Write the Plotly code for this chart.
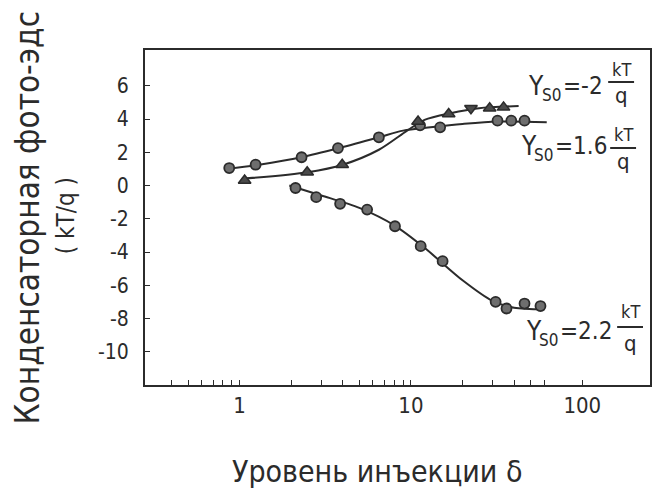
import plotly.graph_objects as go

# ---------------- data ----------------
# Y_s0 = 1.6 kT/q  (circles, upper)
s1_x = [0.87, 1.24, 2.3, 3.75, 6.5, 11.3, 14.8, 32, 38.5, 46]
s1_y = [1.05, 1.25, 1.7, 2.25, 2.9, 3.62, 3.5, 3.9, 3.9, 3.9]
c1_x = [0.85, 1.3, 2.3, 3.8, 6.5, 9.0, 13, 20, 32, 62]
c1_y = [1.0, 1.25, 1.7, 2.25, 2.9, 3.3, 3.5, 3.7, 3.85, 3.8]

# Y_s0 = -2 kT/q  (triangles)
s2_x = [1.07, 2.48, 3.97, 11.0, 16.6, 22.4, 28.8, 34.7]
s2_y = [0.3, 0.8, 1.25, 3.85, 4.3, 4.65, 4.65, 4.7]
s2_sym = ["triangle-up", "triangle-up", "triangle-up", "triangle-up",
          "triangle-up", "triangle-down", "triangle-up", "triangle-up"]
c2_x = [1.03, 2.5, 4.0, 6.5, 9.5, 12, 17, 25, 42.5]
c2_y = [0.4, 0.8, 1.25, 2.15, 3.3, 3.95, 4.35, 4.65, 4.78]

# Y_s0 = 2.2 kT/q  (circles, lower)
s3_x = [2.12, 2.8, 3.86, 5.55, 8.07, 11.4, 15.3, 31.2, 36.1, 46, 57]
s3_y = [-0.15, -0.7, -1.1, -1.45, -2.45, -3.65, -4.55, -7.0, -7.4, -7.1, -7.25]
c3_x = [1.95, 3, 5, 8, 12, 20, 30, 40, 60]
c3_y = [0.0, -0.6, -1.35, -2.4, -3.75, -5.7, -6.95, -7.35, -7.45]

y_ticks = [-10, -8, -6, -4, -2, 0, 2, 4, 6]
x_major = [1, 10, 100]
x_major_text = ["1", "10", "100"]
x_minor = [0.4, 0.5, 0.6, 0.7, 0.8, 0.9, 2, 3, 4, 5, 6, 7, 8, 9,
           20, 30, 40, 50, 60]

labels = ["-2", "1.6", "2.2"]

# ---------------- figure ----------------
W, H = 655, 496
L, R, T, B = 145, 3, 50, 111
INK = "#2b2b2b"
FONT = "DejaVu Sans Condensed, Liberation Sans Narrow, DejaVu Sans, sans-serif"

def px(xp, yp):
    return (xp - L) / (W - L - R), (H - B - yp) / (H - T - B)

fig = go.Figure()
line_style = dict(color=INK, width=2, shape="spline", smoothing=0.8)
for cx, cy in [(c1_x, c1_y), (c2_x, c2_y), (c3_x, c3_y)]:
    fig.add_trace(go.Scatter(x=cx, y=cy, mode="lines", line=line_style,
                             hoverinfo="skip", showlegend=False))

circ = dict(symbol="circle", size=10, color="#6e6e6e",
            line=dict(color=INK, width=1.8))
fig.add_trace(go.Scatter(x=s1_x, y=s1_y, mode="markers", marker=circ,
                         showlegend=False))
fig.add_trace(go.Scatter(x=s3_x, y=s3_y, mode="markers", marker=circ,
                         showlegend=False))
fig.add_trace(go.Scatter(x=s2_x, y=s2_y, mode="markers",
                         marker=dict(symbol=s2_sym, size=11, color="#4a4a4a",
                                     line=dict(color=INK, width=1.5)),
                         showlegend=False))

ann = []
shapes = []

def txt(xp, yp, text, size, anchor="left"):
    a, b = px(xp, yp)
    ann.append(dict(x=a, y=b, xref="paper", yref="paper", xanchor=anchor,
                    yanchor="middle", showarrow=False, text=text,
                    font=dict(size=size, color=INK, family=FONT)))

def label(text, xl, yc, fxc, ykt, ybar, yq, hw=13):
    txt(xl, yc, "Y", 26)
    txt(xl + 14, yc + 9, "S0", 17)
    txt(xl + 35, yc, "=" + text, 24)
    txt(fxc, ykt, "kT", 18, "center")
    txt(fxc, yq, "q", 22, "center")
    a0, b0 = px(fxc - hw, ybar)
    a1, _ = px(fxc + hw, ybar)
    shapes.append(dict(type="line", xref="paper", yref="paper", x0=a0, x1=a1,
                       y0=b0, y1=b0, line=dict(color=INK, width=2)))

label(labels[0], 528, 86, 623, 70, 82, 95)
label(labels[1], 520, 146, 625, 134, 148, 161)
label(labels[2], 525, 331, 632, 311, 327, 343)

# axis titles
ann.append(dict(x=px(27, 0)[0], y=px(0, 218)[1], xref="paper", yref="paper",
                textangle=-90, showarrow=False, xanchor="center", yanchor="middle",
                text="Конденсаторная фото-эдс",
                font=dict(size=33, color=INK, family=FONT)))
ann.append(dict(x=px(66, 0)[0], y=px(0, 216)[1], xref="paper", yref="paper",
                textangle=-90, showarrow=False, xanchor="center", yanchor="middle",
                text="( kT/q )",
                font=dict(size=24, color=INK, family=FONT)))
ann.append(dict(x=px(378, 0)[0], y=px(0, 472)[1], xref="paper", yref="paper",
                showarrow=False, xanchor="center", yanchor="middle",
                text="Уровень инъекции δ",
                font=dict(size=30, color=INK, family=FONT)))

fig.update_layout(
    width=W, height=H, margin=dict(l=L, r=R, t=T, b=B),
    paper_bgcolor="white", plot_bgcolor="white",
    annotations=ann, shapes=shapes, showlegend=False,
    xaxis=dict(type="log", range=[-0.552, 2.395], showgrid=False,
               zeroline=False, showline=True, linecolor=INK, linewidth=2,
               mirror=True, ticks="inside", ticklen=5, tickcolor=INK,
               tickvals=x_major, ticktext=x_major_text,
               minor=dict(tickmode="array", tickvals=x_minor, ticks="inside",
                          ticklen=5, tickcolor=INK, showgrid=False),
               tickfont=dict(size=22, color=INK, family=FONT)),
    yaxis=dict(range=[-12.0, 8.15], showgrid=False, zeroline=False,
               showline=True, linecolor=INK, linewidth=2, mirror=True,
               ticks="inside", ticklen=5, tickcolor=INK, tickvals=y_ticks,
               ticktext=[str(v) for v in y_ticks], ticklabelstandoff=10,
               tickfont=dict(size=21, color=INK, family=FONT)),
)

fig.write_html("out.html")
